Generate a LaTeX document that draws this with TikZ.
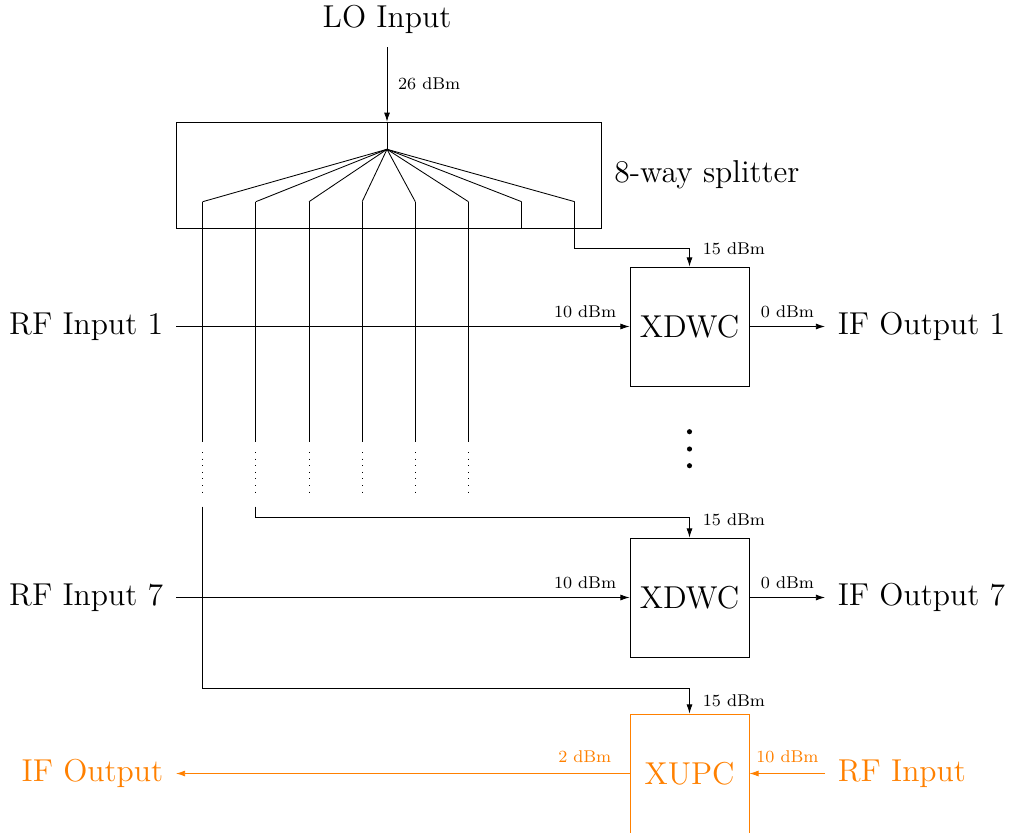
\documentclass[tikz,border=0pt]{standalone}
\usetikzlibrary{arrows.meta}
\newcommand{\bigtxt}{\fontsize{14.85}{18}\selectfont}
\begin{document}
\begin{tikzpicture}[x=0.4695pt,y=-0.4695pt,
  lbl/.style={font=\bigtxt, inner sep=0pt, outer sep=6pt},
  pw/.style={font=\footnotesize, inner sep=0pt},
  blk/.style={draw, minimum width=55.87pt, minimum height=55.87pt, inner sep=0pt, font=\bigtxt},
  arr/.style={-{Latex[length=4.3pt,width=2.8pt]}},
  dotln/.style={dash pattern=on 0.4pt off 2.7pt},
  dotmark/.style={circle, fill, inner sep=0pt, minimum size=2.4pt}
]
\useasboundingbox (0,0) rectangle (1009,832);

% LO input and splitter
\node[font=\bigtxt, inner sep=0pt, anchor=base] (lo) at (387,27.5) {LO Input};
\node[draw, minimum width=199.5pt, minimum height=49.8pt, inner sep=0pt] (spl) at (388.7,175.2) {};
\node[lbl, anchor=west] (spllbl) at (spl.east) {8-way splitter};
\coordinate (hub) at (387,149.3);
\draw[arr] ([yshift=-9.3pt]lo.base) -- (lo.base |- spl.north);
\node[pw, anchor=base west] (l26) at (397.7,89.3) {26 dBm};
\draw (hub |- spl.north) -- (hub);
\foreach \i in {1,...,8}{
  \coordinate (b\i) at ({202.7+(\i-1)*53.15},201.7);
  \draw (hub) -- (b\i);
}
\draw[line width=0.75pt] (b1 |- spl.south) -- (b7 |- spl.south);
\draw (b7) -- (b7 |- spl.south);
\foreach \i in {1,...,6}{
  \draw (b\i) -- (b\i |- 0,441.7);
  \draw[dotln] (b\i |- 0,452) -- (b\i |- 0,492);
}

% Down-converters
\node[blk] (x1) at (689.5,326.5) {XDWC};
\node[blk] (x7) at (689.5,597.5) {XDWC};
\node[blk, draw=orange, text=orange] (xupc) at (689.5,773.5) {XUPC};

% LO feeds
\draw[arr] (b8) |- (x1.north |- 0,248) -- (x1.north);
\draw[arr] (b2 |- 0,506.7) |- (x7.north |- 0,517.3) -- (x7.north);
\draw[arr] (b1 |- 0,506.7) |- (xupc.north |- 0,688) -- (xupc.north);
\node[pw, anchor=base west] (l15a) at (702.5,254.3) {15 dBm};
\node[pw, anchor=base west] (l15b) at (702.5,525.3) {15 dBm};
\node[pw, anchor=base west] (l15c) at (702.5,706.7) {15 dBm};

% Channel 1
\node[lbl, anchor=east] (rf1) at (176,326.5) {RF Input 1};
\node[lbl, anchor=west] (if1) at (825,326.5) {IF Output 1};
\draw[arr] (rf1) -- (x1);
\draw[arr] (x1) -- (if1);
\node[pw, anchor=base east] (l10a) at (616.5,317) {10 dBm};
\node[pw, anchor=base west] (l0a) at (760.5,317) {0 dBm};

% ellipsis
\node[dotmark] (d1) at (689.5,431.7) {};
\node[dotmark] (d2) at (689.5,449) {};
\node[dotmark] (d3) at (689.5,465.7) {};

% Channel 7
\node[lbl, anchor=east] (rf7) at (176,597.5) {RF Input 7};
\node[lbl, anchor=west] (if7) at (825,597.5) {IF Output 7};
\draw[arr] (rf7) -- (x7);
\draw[arr] (x7) -- (if7);
\node[pw, anchor=base east] (l10b) at (616.5,588) {10 dBm};
\node[pw, anchor=base west] (l0b) at (760.5,588) {0 dBm};

% Up-converter
\node[lbl, anchor=west, text=orange] (rfin) at (825,773.5) {RF Input};
\node[lbl, anchor=east, text=orange] (ifout) at (176,773.5) {IF Output};
\draw[arr, orange] (rfin) -- (xupc);
\draw[arr, orange] (xupc) -- (ifout);
\node[pw, anchor=base east, text=orange] (l2) at (611.7,762.7) {2 dBm};
\node[pw, anchor=base west, text=orange] (l10c) at (756,762.7) {10 dBm};
\end{tikzpicture}
\end{document}
